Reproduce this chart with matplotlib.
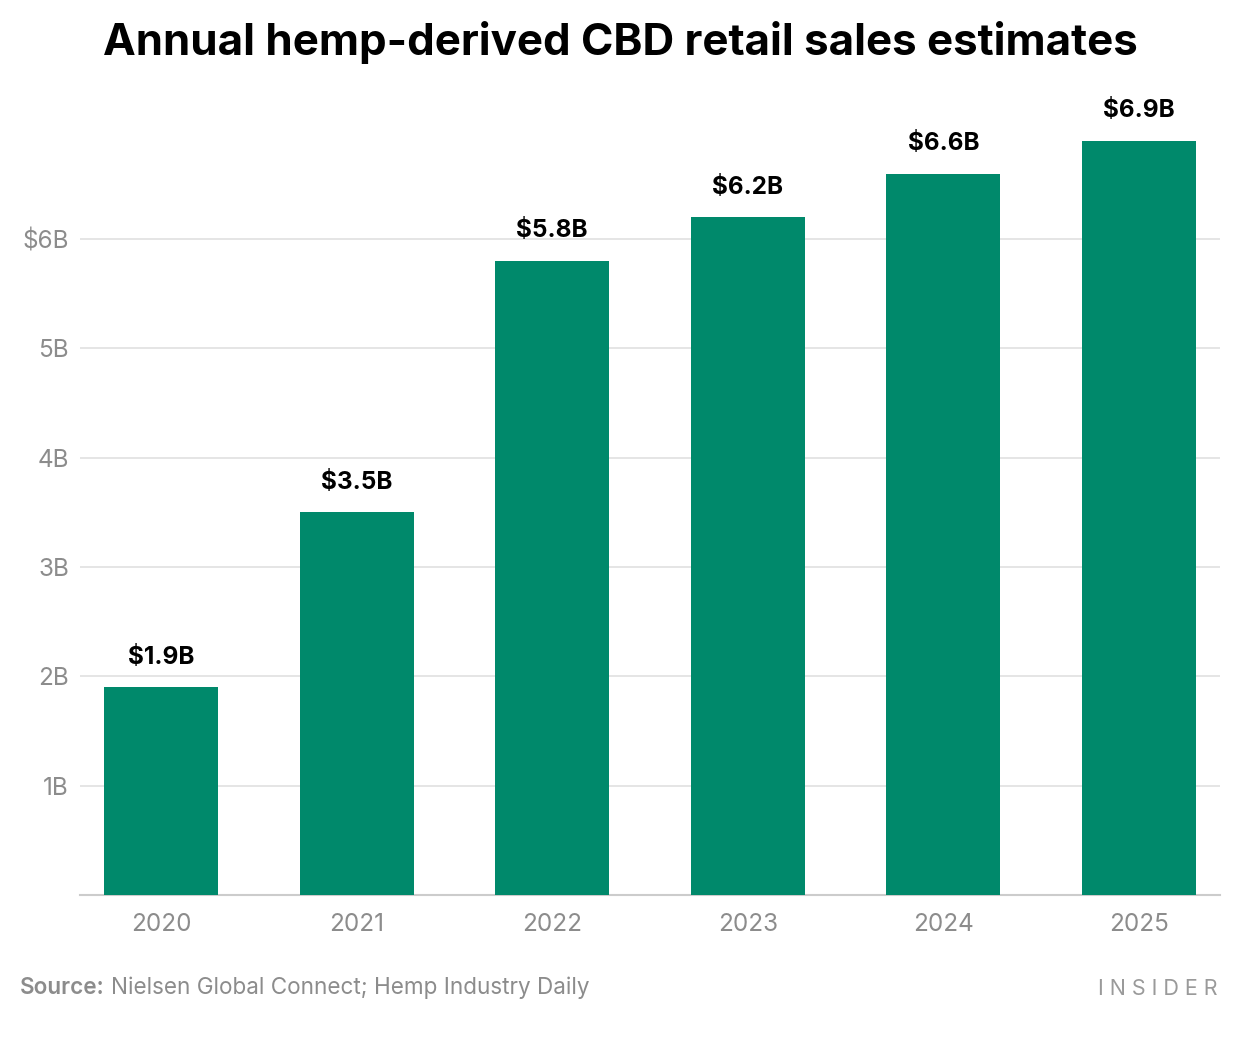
import matplotlib
matplotlib.use("Agg")
import matplotlib.pyplot as plt

years = ["2020", "2021", "2022", "2023", "2024", "2025"]
sales = [1.9, 3.5, 5.8, 6.2, 6.6, 6.9]
ytick_vals = [1, 2, 3, 4, 5, 6]
ytick_labels = ["1B", "2B", "3B", "4B", "5B", "$6B"]

plt.rcParams['font.family'] = ['Inter', 'DejaVu Sans']

fig = plt.figure(figsize=(12.4, 10.4), dpi=100)
ax = fig.add_axes([80 / 1240, (1040 - 895) / 1040, 1140 / 1240, (895 - 97) / 1040])

x = range(len(years))
ax.bar(x, sales, width=0.583, color="#00896b", zorder=3)

# etiquetas sobre cada barra
for xi, v in zip(x, sales):
    ax.text(xi, v + 0.17, f"${v:.1f}B", ha="center", va="bottom",
            fontsize=17.5, fontweight="bold", color="black")

ax.set_xlim(-0.414, 5.414)
ax.set_ylim(0, 7.3)
ax.set_yticks(ytick_vals)
ax.set_yticklabels(ytick_labels)
ax.set_xticks(list(x))
ax.set_xticklabels(years)
ax.grid(axis="y", color="#e3e3e3", linewidth=1.3, zorder=0)
ax.tick_params(axis="both", length=0, labelsize=17.5, labelcolor="#8c8c8c")
ax.tick_params(axis="y", pad=8)
ax.tick_params(axis="x", pad=13)
for s in ["top", "right", "left"]:
    ax.spines[s].set_visible(False)
ax.spines["bottom"].set_color("#cccccc")
ax.spines["bottom"].set_linewidth(1.5)

fig.text(0.5, 1 - 43 / 1040, "Annual hemp-derived CBD retail sales estimates",
         ha="center", va="center", fontsize=31.6, fontweight="bold", color="black")

# pie de figura
src = fig.text(20 / 1240, 1 - 988 / 1040, "Source:", ha="left", va="center",
               fontsize=16.2, fontweight="semibold", color="#8c8c8c")
fig.canvas.draw()
bb = src.get_window_extent()
fig.text((bb.x1 + 6) / 1240, 1 - 988 / 1040, "Nielsen Global Connect; Hemp Industry Daily",
         ha="left", va="center", fontsize=16.2, color="#8c8c8c")
fig.text(1218 / 1240, 1 - 989 / 1040, "I N S I D E R", ha="right", va="center",
         fontsize=15.5, color="#9a9a9a")

fig.savefig("out.png", dpi=100, facecolor="white")
